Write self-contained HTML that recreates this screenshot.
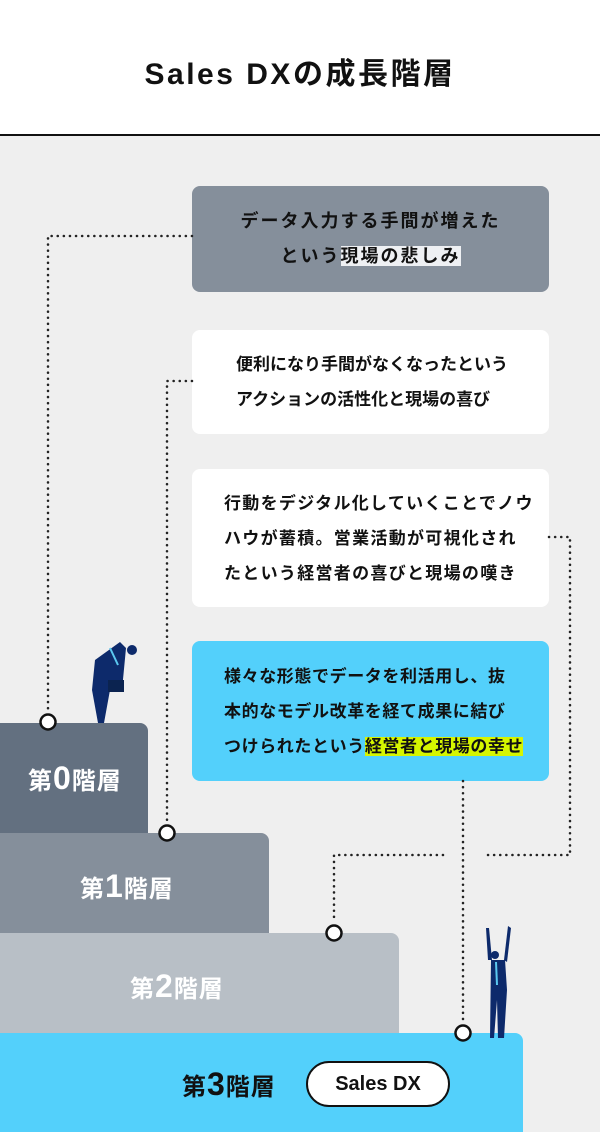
<!DOCTYPE html>
<html><head><meta charset="utf-8"><style>
*{margin:0;padding:0;box-sizing:border-box}
body{width:600px;height:1132px;position:relative;background:#efefef;font-family:"Liberation Sans","Noto Sans CJK JP",sans-serif;overflow:hidden;color:#111}
.hdr{position:absolute;left:0;top:0;width:600px;height:136px;background:#fff;border-bottom:2px solid #111}
.hdr h1{position:absolute;left:0;right:0;top:49px;text-align:center;font-size:30px;font-weight:bold;letter-spacing:2.5px}
.box{position:absolute;left:192px;width:357px;border-radius:8px;display:flex;align-items:center;font-weight:bold;font-size:17px;letter-spacing:1.3px;line-height:35px;white-space:nowrap}
.step{position:absolute;left:0;border-radius:0 8px 0 0;color:#fff;font-weight:bold;font-size:24px;letter-spacing:1px}
.step b{font-size:32px;font-family:"Liberation Sans",sans-serif}
svg{position:absolute;left:0;top:0}
</style></head><body>
<div class="hdr"><h1>Sales DXの成長階層</h1></div>
<div class="box" style="top:186px;height:106px;background:#858f9b;justify-content:center;text-align:center;letter-spacing:2px;font-size:18px"><div>データ入力する手間が増えた<br>という<span style="background:#eef0f3">現場の悲しみ</span></div></div>
<div class="box" style="top:330px;height:104px;background:#fff;padding-left:44px;letter-spacing:0"><div>便利になり手間がなくなったという<br>アクションの活性化と現場の喜び</div></div>
<div class="box" style="top:469px;height:138px;background:#fff;padding-left:32px"><div>行動をデジタル化していくことでノウ<br>ハウが蓄積。営業活動が可視化され<br>たという経営者の喜びと現場の嘆き</div></div>
<div class="box" style="top:641px;height:140px;background:#53d0fb;padding-left:32px;letter-spacing:0.6px"><div>様々な形態でデータを利活用し、抜<br>本的なモデル改革を経て成果に結び<br>つけられたという<span style="background:#d6f500">経営者と現場の幸せ</span></div></div>
<div class="step" style="top:1033px;height:99px;width:523px;background:#53d0fb"></div>
<div class="step" style="top:933px;height:100px;width:399px;background:#b8bfc6"></div>
<div class="step" style="top:833px;height:100px;width:269px;background:#858f9b"></div>
<div class="step" style="top:723px;height:110px;width:148px;background:#637080"></div>
<div class="step" style="top:760px;left:28px;background:none">第<b>0</b>階層</div>
<div class="step" style="top:868px;left:80px;background:none">第<b>1</b>階層</div>
<div class="step" style="top:968px;left:130px;background:none">第<b>2</b>階層</div>
<div class="step" style="top:1066px;left:182px;background:none;color:#111">第<b>3</b>階層</div>
<div style="position:absolute;left:306px;top:1061px;width:144px;height:46px;border:2px solid #111;border-radius:23px;background:#fff;text-align:center;line-height:42px;font-weight:bold;font-size:20px">Sales DX</div>
<svg width="600" height="1132">
<g fill="none" stroke="#222" stroke-width="2.5" stroke-dasharray="0.1 6" stroke-linecap="round">
<path d="M192 236H48V712"/>
<path d="M192 381H167V822"/>
<path d="M549 537H570V855H487"/>
<path d="M443 855H334V922"/>
<path d="M463 781V1022"/>
</g>
<g fill="#fff" stroke="#111" stroke-width="2.5">
<circle cx="48" cy="722" r="7.5"/><circle cx="167" cy="833" r="7.5"/><circle cx="334" cy="933" r="7.5"/><circle cx="463" cy="1033" r="7.5"/>
</g>
<g fill="#0d2a6b">
<path d="M95 660L120 642L126 648L122 690L110 690L104 723L98 723L92 690Z"/>
<circle cx="132" cy="650" r="5"/>
<rect x="108" y="680" width="16" height="12" fill="#0b2350"/>
<path d="M491 960L505 960L507 990L504 1038L498 1038L497 1000L494 1038L490 1038Z"/>
<path d="M488 960L486 928L489 928L492 960Z"/><path d="M504 960L508 926L511 928L507 962Z"/>
<circle cx="495" cy="955" r="4"/>
</g>
<path d="M110 648L118 665" stroke="#5bc8f0" stroke-width="2"/>
<path d="M496 962L497 985" stroke="#5bc8f0" stroke-width="2"/>
</svg>
</body></html>
